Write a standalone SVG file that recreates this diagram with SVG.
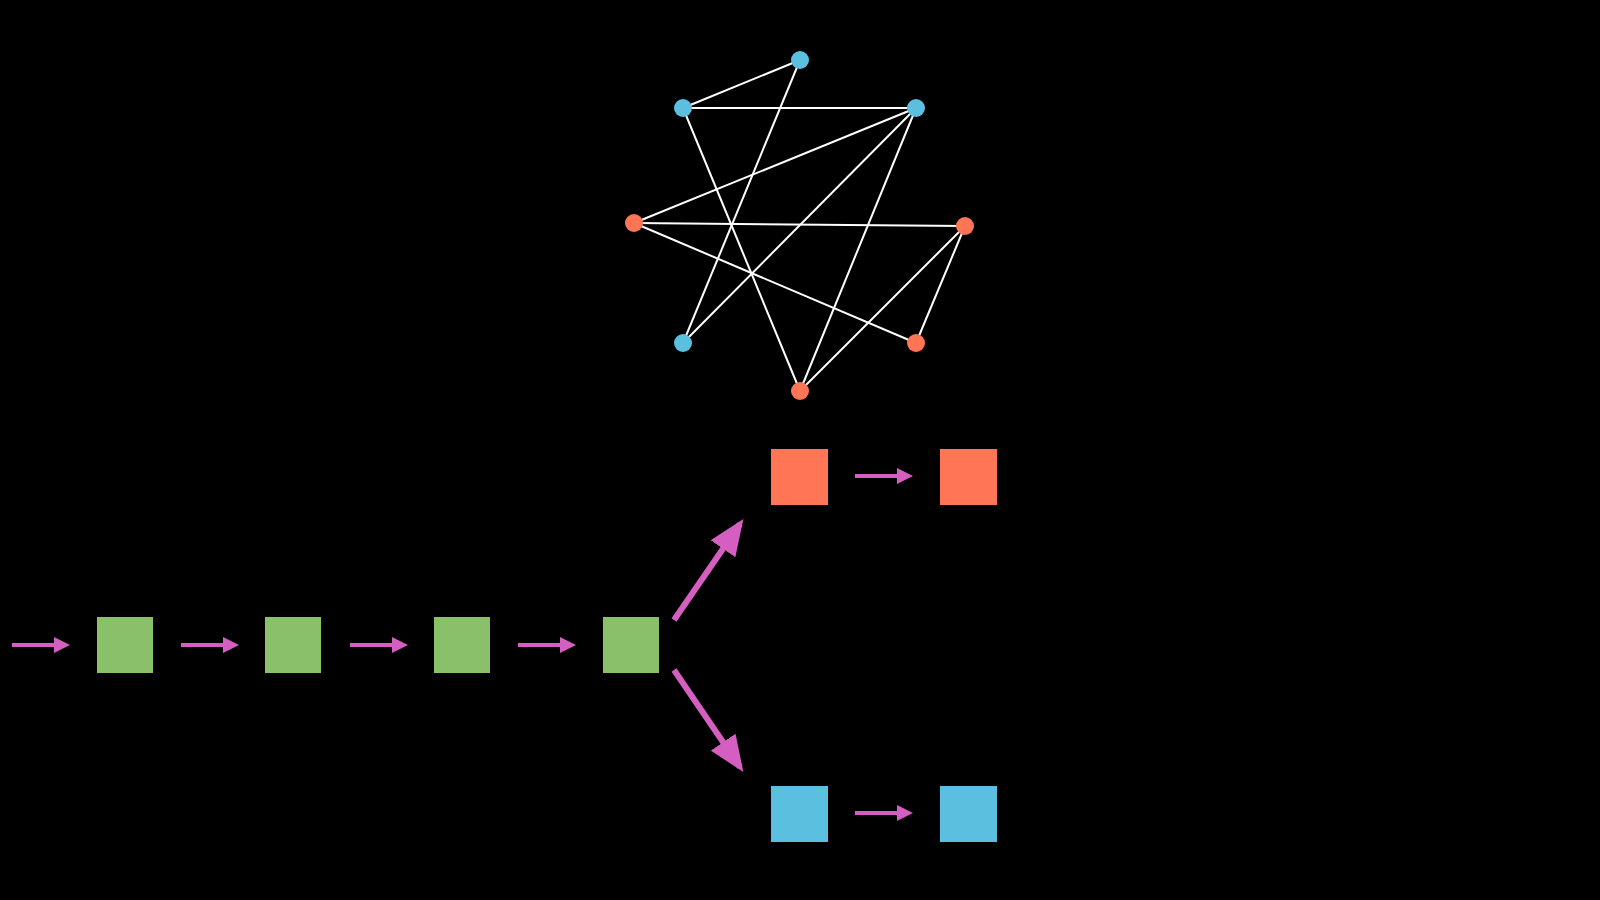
<svg xmlns="http://www.w3.org/2000/svg" width="1600" height="900" viewBox="0 0 1600 900">
<style>
.e{stroke:#fff;stroke-width:2}
.b{fill:#5BC0E0}.r{fill:#FF7555}.g{fill:#8BC06A}
.a{stroke:#D55FC0;stroke-width:4;fill:none}
.A{stroke:#D55FC0;stroke-width:6;fill:none}
</style>
<defs>
<marker id="m" markerWidth="4" markerHeight="4" refX="2" refY="2" orient="auto"><path d="M0,0L4,2L0,4Z" fill="#D55FC0"/></marker>
<marker id="M" markerWidth="6" markerHeight="5" refX="5" refY="2.5" orient="auto" markerUnits="strokeWidth"><path d="M0,0L6,2.5L0,5Z" fill="#D55FC0"/></marker>
</defs>
<rect width="1600" height="900" fill="#000"/>
<g id="connectors">
<g class="e">
<line x1="800" y1="60" x2="683" y2="108"/><line x1="800" y1="60" x2="683" y2="343"/>
<line x1="683" y1="108" x2="916" y2="108"/><line x1="683" y1="108" x2="800" y2="391"/>
<line x1="916" y1="108" x2="634" y2="223"/><line x1="916" y1="108" x2="683" y2="343"/>
<line x1="916" y1="108" x2="800" y2="391"/><line x1="634" y1="223" x2="965" y2="226"/>
<line x1="634" y1="223" x2="916" y2="343"/><line x1="965" y1="226" x2="916" y2="343"/>
<line x1="965" y1="226" x2="800" y2="391"/>
</g>
<line class="a" x1="12" y1="645" x2="62" y2="645" marker-end="url(#m)"/>
<line class="a" x1="181" y1="645" x2="231" y2="645" marker-end="url(#m)"/>
<line class="a" x1="350" y1="645" x2="400" y2="645" marker-end="url(#m)"/>
<line class="a" x1="518" y1="645" x2="568" y2="645" marker-end="url(#m)"/>
<line class="a" x1="855" y1="476" x2="905" y2="476" marker-end="url(#m)"/>
<line class="a" x1="855" y1="813" x2="905" y2="813" marker-end="url(#m)"/>
<line class="A" x1="674" y1="620" x2="740" y2="524" marker-end="url(#M)"/>
<line class="A" x1="674" y1="670" x2="740" y2="767" marker-end="url(#M)"/>
</g>
<g id="graph">
<circle id="n1" class="b" cx="800" cy="60" r="9"/>
<circle id="n2" class="b" cx="683" cy="108" r="9"/>
<circle id="n3" class="b" cx="916" cy="108" r="9"/>
<circle id="n4" class="r" cx="634" cy="223" r="9"/>
<circle id="n5" class="r" cx="965" cy="226" r="9"/>
<circle id="n6" class="b" cx="683" cy="343" r="9"/>
<circle id="n7" class="r" cx="916" cy="343" r="9"/>
<circle id="n8" class="r" cx="800" cy="391" r="9"/>
</g>
<g id="g1"><rect class="g" x="97" y="617" width="56" height="56"/></g>
<g id="g2"><rect class="g" x="265" y="617" width="56" height="56"/></g>
<g id="g3"><rect class="g" x="434" y="617" width="56" height="56"/></g>
<g id="g4"><rect class="g" x="603" y="617" width="56" height="56"/></g>
<g id="r1"><rect class="r" x="771" y="449" width="57" height="56"/></g>
<g id="r2"><rect class="r" x="940" y="449" width="57" height="56"/></g>
<g id="b1"><rect class="b" x="771" y="786" width="57" height="56"/></g>
<g id="b2"><rect class="b" x="940" y="786" width="57" height="56"/></g>
</svg>
